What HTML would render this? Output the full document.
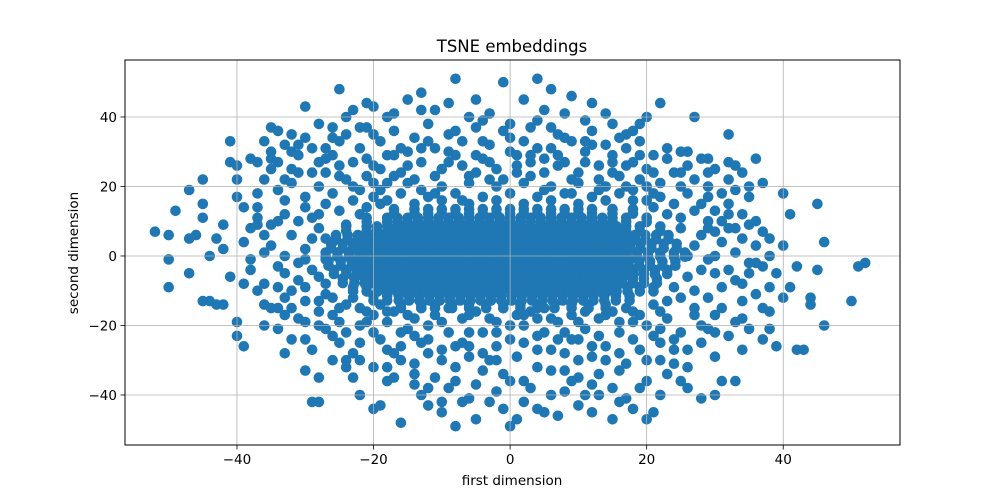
<!DOCTYPE html>
<html><head><meta charset="utf-8"><style>
html,body{margin:0;padding:0;background:#fff;}
svg{display:block;font-family:"DejaVu Sans","Liberation Sans",sans-serif;}
</style></head><body>
<svg id="chart" width="1000" height="500" viewBox="0 0 1000 500" xmlns="http://www.w3.org/2000/svg">
<rect x="0" y="0" width="1000" height="500" fill="#fff"/>
<text x="512" y="52" text-anchor="middle" font-size="16.5" fill="#000">TSNE embeddings</text>
<text x="512" y="485" text-anchor="middle" font-size="13.5" fill="#000">first dimension</text>
<text x="0" y="0" transform="translate(78,253) rotate(-90)" text-anchor="middle" font-size="13.5" fill="#000">second dimension</text>
<g id="points"></g>
<g id="grid"></g>
<g id="ticks"></g>
<rect x="125" y="60" width="775" height="385" fill="none" stroke="#000" stroke-width="1"/>
</svg>
<script>
const xTicks = [-40, -20, 0, 20, 40];
const yTicks = [-40, -20, 0, 20, 40];
const outerPoints = [[-52,7],[-50,6],[-49,13],[-50,-1],[-50,-9],[-47,5],[-46,6],[-47,-5],[-47,19],[-45,22],[-45,15],[-45,11],[-44,-13],[-45,-13],[-43,-14],[-42,-14],[-43,5],[-42,2],[-41,-6],[-41,33],[-41,27],[-40,26],[-40,22],[-40,17],[-40,-19],[-40,-23],[-39,-26],[-39,4],[-39,14],[-38,-1],[-37,18],[-37,9],[-36,-14],[-36,-8],[-35,37],[-35,28],[-34,36],[-34,-21],[-33,-28],[-33,-17],[-32,30],[-31,24],[-30,43],[-30,-33],[-29,-42],[-28,-42],[-28,-35],[-27,31],[-27,-21],[-26,37],[-25,48],[-25,-25],[-24,-30],[-23,42],[-22,-40],[-21,44],[-20,-44],[-19,-43],[-18,40],[-17,-35],[-16,-48],[-15,45],[-14,-37],[-13,47],[-12,-43],[-11,42],[-10,-42],[-8,51],[-8,-49],[-7,-42],[-5,45],[-5,-47],[-3,-42],[-1,50],[-1,-44],[0,-49],[1,-47],[2,45],[3,37],[4,51],[5,-45],[6,48],[7,-46],[8,-39],[9,46],[10,-43],[11,-40],[12,44],[13,-34],[14,41],[15,-47],[16,-42],[17,35],[18,-44],[19,38],[20,40],[20,-47],[21,-45],[22,44],[23,-34],[25,-36],[26,30],[27,40],[28,-41],[29,24],[30,-40],[31,-36],[32,35],[33,-36],[34,-27],[35,17],[36,28],[37,21],[37,-24],[38,-21],[39,-26],[40,18],[40,3],[41,12],[41,-9],[42,-27],[43,-27],[44,-12],[45,15],[46,4],[46,-20],[45,-4],[44,-14],[50,-13],[52,-2],[51,-3],[40,-12],[42,-3],[38,5],[36,-2],[39,-5],[37,-15]];
const upperPoints = [[-38,28],[-37,27],[-36,33],[-35,30],[-34,27],[-33,32],[-32,25],[-31,29],[-30,34],[-29,31],[-28,27],[-27,24],[-26,29],[-25,33],[-24,35],[-23,27],[-22,31],[-21,37],[-20,26],[-19,33],[-18,29],[-17,36],[-16,24],[-15,30],[-14,34],[-13,27],[-12,38],[-11,31],[-10,25],[-9,35],[-8,29],[-7,33],[-6,23],[-5,37],[-4,28],[-3,32],[-2,25],[-1,36],[0,30],[1,26],[2,33],[3,29],[4,39],[5,24],[6,31],[7,35],[8,27],[9,33],[10,24],[11,30],[12,36],[13,26],[14,32],[15,29],[16,23],[17,31],[18,27],[19,33],[20,25],[21,29],[22,21],[23,28],[24,24],[25,30],[26,26],[27,22],[28,28],[29,20],[30,25],[31,18],[32,22],[33,19],[34,24],[35,20],[-36,22],[-34,19],[-32,21],[-30,17],[-28,20],[-26,18],[-24,22],[-22,19],[-20,17],[-18,21],[-16,18],[-14,22],[-12,17],[-10,20],[-8,18],[-6,21],[-4,17],[-2,20],[0,18],[2,21],[4,17],[6,20],[8,18],[10,21],[12,17],[14,20],[16,18],[18,16],[20,20],[22,17],[24,15],[26,18],[28,15],[30,13],[32,15],[34,12],[-30,14],[-27,15],[-25,13],[-23,16],[-21,14],[-19,15],[21,14],[23,12],[25,11],[27,13],[29,10],[31,10],[33,8],[35,9],[37,7],[-33,12],[-35,9],[-37,11],[-31,10],[-29,11],[-24,40],[-20,43],[-17,41],[-13,42],[-9,44],[-6,40],[-3,41],[0,38],[5,42],[8,41],[11,39],[15,38],[18,36],[-28,38],[-32,35],[-22,37]];
const lowerPoints = [[-37,-10],[-36,-20],[-35,-15],[-34,-9],[-33,-12],[-32,-24],[-31,-18],[-30,-13],[-29,-27],[-28,-16],[-27,-11],[-26,-23],[-25,-19],[-24,-14],[-23,-28],[-22,-20],[-21,-16],[-20,-32],[-19,-24],[-18,-19],[-17,-28],[-16,-22],[-15,-17],[-14,-31],[-13,-25],[-12,-20],[-11,-35],[-10,-27],[-9,-22],[-8,-32],[-7,-18],[-6,-26],[-5,-37],[-4,-22],[-3,-30],[-2,-19],[-1,-34],[0,-24],[1,-29],[2,-20],[3,-38],[4,-27],[5,-22],[6,-33],[7,-19],[8,-28],[9,-24],[10,-35],[11,-21],[12,-29],[13,-18],[14,-26],[15,-38],[16,-22],[17,-31],[18,-19],[19,-27],[20,-36],[21,-23],[22,-30],[23,-18],[24,-27],[25,-22],[26,-32],[27,-17],[28,-25],[29,-21],[30,-29],[31,-15],[32,-23],[33,-19],[34,-13],[35,-21],[36,-11],[38,-16],[-33,-5],[-31,-7],[-29,-4],[-27,-8],[-25,-15],[-23,-12],[-21,-19],[-19,-14],[-17,-16],[-15,-21],[-13,-15],[-11,-17],[-9,-15],[-7,-25],[-5,-16],[-3,-18],[-1,-15],[1,-17],[3,-16],[5,-15],[7,-24],[9,-17],[11,-16],[13,-23],[15,-16],[17,-15],[19,-17],[21,-14],[23,-13],[25,-12],[27,-10],[29,-12],[31,-9],[33,-7],[35,-5],[37,-3],[-13,-40],[-9,-38],[-6,-41],[-2,-39],[2,-42],[6,-40],[9,-36],[13,-40],[17,-41],[19,-38],[-18,-36],[-23,-35],[-26,-30],[22,-40],[26,-38],[-10,-45],[4,-44],[12,-45]];
const sidePoints = [[-35,3],[-33,0],[-31,-2],[-29,5],[-27,-1],[-30,2],[-28,8],[-26,4],[-32,6],[-34,-3],[-36,1],[27,3],[29,-1],[31,4],[33,1],[35,-2],[30,7],[28,-4],[32,-4],[34,5],[26,-6],[25,8],[36,3],[38,0],[-38,8],[-39,-8],[-42,9],[-44,0]];
const extraPoints = [[-19,19],[-17,23],[-15,26],[-13,19],[-11,23],[-9,27],[-7,16],[-5,24],[-3,27],[-1,22],[1,29],[3,23],[5,19],[7,26],[9,22],[11,27],[13,19],[15,24],[17,20],[19,22],[-21,23],[-25,26],[-29,24],[-33,22],[21,24],[25,20],[29,17],[32,27],[-18,16],[-14,15],[-10,16],[-6,15],[-2,16],[2,15],[6,16],[10,15],[14,16],[18,19],[-22,12],[20,11],[-20,-22],[-16,-26],[-12,-24],[-8,-26],[-4,-28],[0,-20],[4,-18],[8,-22],[12,-26],[16,-28],[20,-20],[24,-24],[-24,-22],[-28,-20],[-30,-24],[28,-20],[30,-17],[-18,-16],[-14,-18],[-10,-19],[-6,-17],[-2,-22],[2,-17],[6,-18],[10,-19],[14,-17],[18,-16],[22,-16],[-22,-15],[-20,-17],[-26,-12],[-28,-6],[-30,-9],[-32,-15],[-24,9],[-27,5],[-30,-1],[26,0],[28,6],[30,-5],[32,8],[24,-9],[-16,31],[-12,33],[-8,36],[-4,33],[0,34],[4,31],[8,34],[12,32],[16,34],[-20,35],[-26,34],[-18,-32],[-14,-34],[-8,-36],[-4,-33],[0,-36],[4,-32],[8,-33],[12,-37],[16,-33],[20,-30],[-24,-32],[24,-31]];
const extraPoints2 = [[-23,20],[-19,25],[-15,21],[-11,18],[-7,26],[-3,22],[1,24],[5,28],[9,18],[13,22],[17,26],[21,18],[25,24],[29,28],[33,26],[-27,28],[-31,32],[-35,25],[-37,14],[-33,16],[-28,12],[-17,29],[-13,31],[-9,30],[-5,29],[3,27],[7,29],[11,33],[15,27],[19,29],[23,31],[-21,28],[-25,23],[-22,-25],[-18,-27],[-14,-23],[-10,-30],[-6,-29],[-2,-26],[2,-25],[6,-27],[10,-24],[14,-30],[18,-24],[22,-25],[26,-27],[30,-22],[34,-18],[-34,-15],[-30,-19],[-26,-17],[-22,-30],[-16,-30],[-12,-28],[-6,-22],[-2,-30],[4,-23],[10,-30],[16,-19],[22,-21],[-38,-4],[-36,6],[-34,10],[36,10],[38,-9],[34,-8],[32,12],[30,0],[-32,-10],[-28,-13],[27,-15],[29,8],[-20,21],[20,16],[-4,39],[6,37],[-12,-38],[2,-36]];
const coreRowY = [13.5, 11, 8.5, 6, 3.5, 1, -1.5, -4, -6.5, -9, -11.5, -14];
const coreRowY2 = [12.2, 9.8, 7.2, 4.8, 2.2, -0.2, -2.8, -5.2, -7.8, -10.2, -12.8, -15];
const coreRowX = [
 [-17,-14,-12,-10,-8,-6,-4,-2,0,2,4,6,8,10,12,15,18],
 [-21,-18,-16.5,-15,-13.5,-12,-10.5,-9,-7.5,-6,-4.5,-3,-1.5,0,1.5,3,4.5,6,7.5,9,10.5,12,13.5,15,17,20],
 [-24,-21,-19.5,-18,-16.6,-15.2,-13.8,-12.4,-11,-9.6,-8.2,-6.8,-5.4,-4,-2.6,-1.2,0.2,1.6,3,4.4,5.8,7.2,8.6,10,11.4,12.8,14.2,15.6,17,19,22],
 [-25.5,-23.8,-22.3,-20.9,-19.5,-18.1,-16.7,-15.3,-13.9,-12.5,-11.1,-9.7,-8.3,-6.9,-5.5,-4.1,-2.7,-1.3,0.1,1.5,2.9,4.3,5.7,7.1,8.5,9.9,11.3,12.7,14.1,15.5,16.9,18.3,19.8,21.4,23.2],
 [-26.2,-24.5,-23,-21.6,-20.2,-18.8,-17.4,-16,-14.6,-13.2,-11.8,-10.4,-9,-7.6,-6.2,-4.8,-3.4,-2,-0.6,0.8,2.2,3.6,5,6.4,7.8,9.2,10.6,12,13.4,14.8,16.2,17.6,19.1,20.7,22.5,24.4],
 [-27,-25.3,-23.6,-22.1,-20.7,-19.3,-17.9,-16.5,-15.1,-13.7,-12.3,-10.9,-9.5,-8.1,-6.7,-5.3,-3.9,-2.5,-1.1,0.3,1.7,3.1,4.5,5.9,7.3,8.7,10.1,11.5,12.9,14.3,15.7,17.1,18.6,20.2,22,24,25.6],
 [-26.6,-24.8,-23.2,-21.8,-20.4,-19,-17.6,-16.2,-14.8,-13.4,-12,-10.6,-9.2,-7.8,-6.4,-5,-3.6,-2.2,-0.8,0.6,2,3.4,4.8,6.2,7.6,9,10.4,11.8,13.2,14.6,16,17.4,18.9,20.5,22.3,24.2],
 [-25.8,-24,-22.5,-21.1,-19.7,-18.3,-16.9,-15.5,-14.1,-12.7,-11.3,-9.9,-8.5,-7.1,-5.7,-4.3,-2.9,-1.5,-0.1,1.3,2.7,4.1,5.5,6.9,8.3,9.7,11.1,12.5,13.9,15.3,16.7,18.1,19.6,21.2,23],
 [-24.5,-22.8,-21.3,-19.9,-18.5,-17.1,-15.7,-14.3,-12.9,-11.5,-10.1,-8.7,-7.3,-5.9,-4.5,-3.1,-1.7,-0.3,1.1,2.5,3.9,5.3,6.7,8.1,9.5,10.9,12.3,13.7,15.1,16.5,18,19.6,21.5],
 [-23,-21,-19.4,-18,-16.6,-15.2,-13.8,-12.4,-11,-9.6,-8.2,-6.8,-5.4,-4,-2.6,-1.2,0.2,1.6,3,4.4,5.8,7.2,8.6,10,11.4,12.8,14.2,15.6,17.2,19,21],
 [-20,-18,-16.3,-14.8,-13.3,-11.8,-10.3,-8.8,-7.3,-5.8,-4.3,-2.8,-1.3,0.2,1.7,3.2,4.7,6.2,7.7,9.2,10.7,12.2,13.8,15.5,17.5],
 [-16,-13,-11,-8.5,-6,-3.5,-1,1.5,4,6.5,9,11.5,14]
];

const NS = 'http://www.w3.org/2000/svg';
const L = 125, R = 900, T = 60, B = 445;
const xMin = -56.4, xMax = 57.1, yMin = -54.4, yMax = 56.4;
function xScale(v){ return L + (v - xMin) / (xMax - xMin) * (R - L); }
function yScale(v){ return B - (v - yMin) / (yMax - yMin) * (B - T); }

const pts = document.getElementById('points');
function addPoint(x, y){
  const c = document.createElementNS(NS, 'circle');
  c.setAttribute('cx', xScale(x).toFixed(1));
  c.setAttribute('cy', yScale(y).toFixed(1));
  c.setAttribute('r', 5.3);
  c.setAttribute('fill', '#1f77b4');
  
  
  pts.appendChild(c);
}
[outerPoints, upperPoints, lowerPoints, sidePoints, extraPoints, extraPoints2].forEach(arr => arr.forEach(p => addPoint(p[0], p[1])));
coreRowY.forEach((y, i) => coreRowX[i].forEach(x => addPoint(x, y)));
coreRowY2.forEach((y, i) => coreRowX[i].forEach(x => addPoint(x, y)));

const grid = document.getElementById('grid');
const ticks = document.getElementById('ticks');
xTicks.forEach(v => {
  const x = xScale(v);
  const g = document.createElementNS(NS, 'line');
  g.setAttribute('x1', x); g.setAttribute('x2', x); g.setAttribute('y1', T); g.setAttribute('y2', B);
  g.setAttribute('stroke', '#b0b0b0'); g.setAttribute('stroke-width', 0.8);
  
  
  grid.appendChild(g);
  const t = document.createElementNS(NS, 'line');
  t.setAttribute('x1', x); t.setAttribute('x2', x); t.setAttribute('y1', B); t.setAttribute('y2', B + 4.5);
  t.setAttribute('stroke', '#000'); t.setAttribute('stroke-width', 0.8);
  
  
  ticks.appendChild(t);
  const lb = document.createElementNS(NS, 'text');
  lb.setAttribute('x', x); lb.setAttribute('y', B + 19);
  lb.setAttribute('text-anchor', 'middle'); lb.setAttribute('font-size', '13.5');
  lb.textContent = v < 0 ? '\u2212' + Math.abs(v) : String(v);
  
  
  ticks.appendChild(lb);
});
yTicks.forEach(v => {
  const y = yScale(v);
  const g = document.createElementNS(NS, 'line');
  g.setAttribute('x1', L); g.setAttribute('x2', R); g.setAttribute('y1', y); g.setAttribute('y2', y);
  g.setAttribute('stroke', '#b0b0b0'); g.setAttribute('stroke-width', 0.8);
  
  
  grid.appendChild(g);
  const t = document.createElementNS(NS, 'line');
  t.setAttribute('x1', L - 4.5); t.setAttribute('x2', L); t.setAttribute('y1', y); t.setAttribute('y2', y);
  t.setAttribute('stroke', '#000'); t.setAttribute('stroke-width', 0.8);
  
  
  ticks.appendChild(t);
  const lb = document.createElementNS(NS, 'text');
  lb.setAttribute('x', L - 8); lb.setAttribute('y', y + 5);
  lb.setAttribute('text-anchor', 'end'); lb.setAttribute('font-size', '13.5');
  lb.textContent = v < 0 ? '\u2212' + Math.abs(v) : String(v);
  
  
  ticks.appendChild(lb);
});
</script>
</body></html>
